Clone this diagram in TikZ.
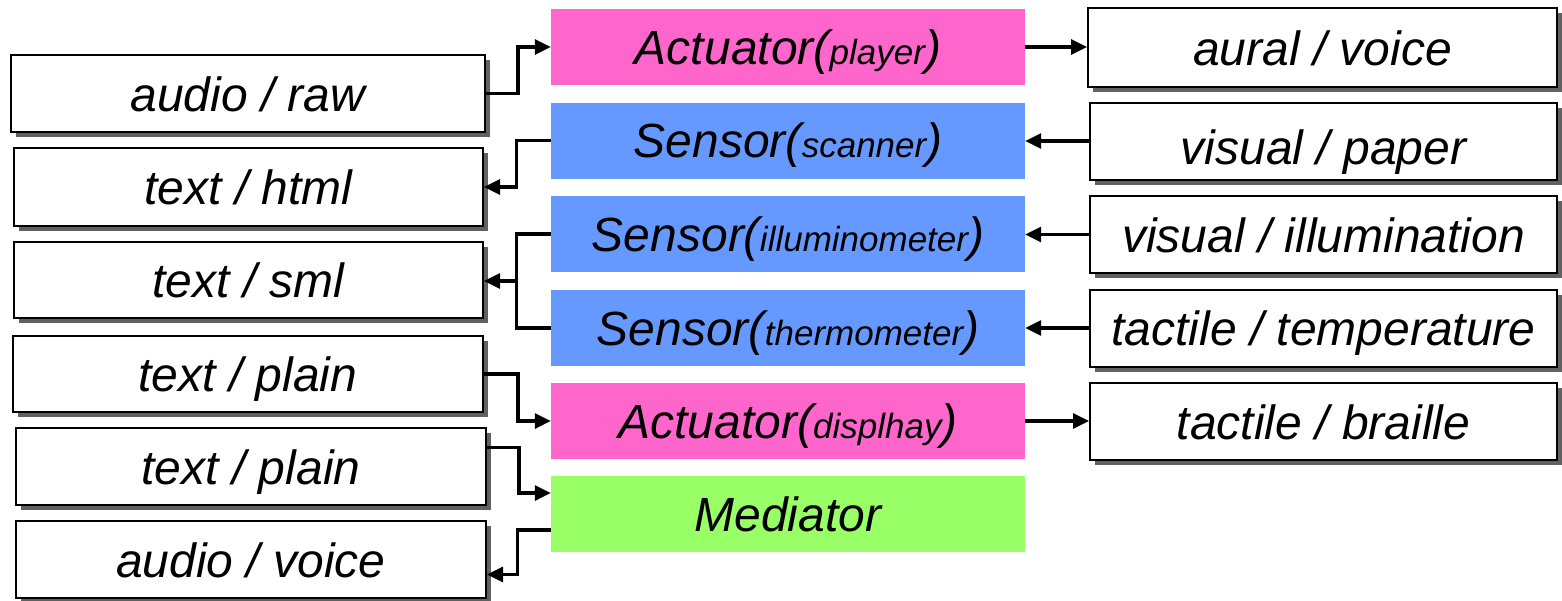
\documentclass[tikz,border=0pt]{standalone}
\usepackage{fontspec}
\setmainfont{Liberation Sans}
\usetikzlibrary{arrows.meta,shadows,calc}
\definecolor{actpink}{HTML}{FF66CC}
\definecolor{senblue}{HTML}{6699FF}
\definecolor{medgreen}{HTML}{99FF66}
\newcommand{\bigtxt}{\fontsize{48}{56}\selectfont\itshape}
\newcommand{\smalltxt}[1]{{\fontsize{35}{40}\selectfont #1}}
\tikzset{
  databox/.style={draw=black, line width=2pt, fill=white, inner sep=0pt,
    font=\bigtxt, text height=35pt, text depth=0pt,
    drop shadow={shadow xshift=5pt, shadow yshift=-5pt, fill=black!62, opacity=1}},
  devbox/.style={inner sep=0pt, minimum width=474pt, minimum height=76pt, font=\bigtxt,
    text height=34pt, text depth=0pt},
  conn/.style={line width=3.2pt, -{Triangle[length=16pt,width=15pt]}},
  plainline/.style={line width=3.2pt}
}
\begin{document}
\begin{tikzpicture}[x=1pt,y=-1pt]
\useasboundingbox (0,0) rectangle (1562,600);
% centre column
\node[devbox, fill=actpink] (c1) at (788,47) {Actuator(\smalltxt{player})};
\node[devbox, fill=senblue] (c2) at (788,140.5) {Sensor(\smalltxt{scanner})};
\node[devbox, fill=senblue] (c3) at (788,234) {Sensor(\smalltxt{illuminometer})};
\node[devbox, fill=senblue] (c4) at (788,328) {Sensor(\smalltxt{thermometer})};
\node[devbox, fill=actpink] (c5) at (788,421) {Actuator(\smalltxt{displhay})};
\node[devbox, fill=medgreen] (c6) at (788,514) {Mediator};
% left column
\node[databox, minimum width=474pt, minimum height=77pt] (l1) at (248,93.5) {audio / raw};
\node[databox, minimum width=469pt, minimum height=78pt] (l2) at (248.5,187) {text / html};
\node[databox, minimum width=469pt, minimum height=76pt] (l3) at (248.5,280) {text / sml};
\node[databox, minimum width=470pt, minimum height=76pt] (l4) at (248,374) {text / plain};
\node[databox, minimum width=470pt, minimum height=77pt] (l5) at (251,466.5) {text / plain};
\node[databox, minimum width=470pt, minimum height=77pt] (l6) at (251,559.5) {audio / voice};
% right column
\node[databox, minimum width=469pt, minimum height=79pt] (r1) at (1322.5,47.5) {aural / voice};
\node[databox, minimum width=467pt, minimum height=77pt, text height=46pt] (r2) at (1323.5,141) {visual / paper};
\node[databox, minimum width=467pt, minimum height=77pt] (r3) at (1323.5,234.5) {visual / illumination};
\node[databox, minimum width=467pt, minimum height=77pt] (r4) at (1323.5,328) {tactile / temperature};
\node[databox, minimum width=467pt, minimum height=77pt] (r5) at (1323.5,421.5) {tactile / braille};
% left connectors
\draw[conn] (l1.east) -- ++(32,0) |- (c1.west);
\draw[conn] (c2.west) -- ++(-34,0) |- (l2.east);
\draw[plainline] (c3.west) -- ++(-34,0) |- (c4.west);
\draw[conn] ($(c3.west)!0.5!(c4.west)+(-34,0)$) -- (l3.east |- {$(c3.west)!0.5!(c4.west)$});
\draw[conn] (l4.east) -- ++(34,0) |- (c5.west);
\draw[conn] ([yshift=19pt]l5.east) -- ++(32,0) |- ([yshift=21pt]c6.west);
\draw[conn] ([yshift=-16pt]c6.west) -- ++(-33,0) |- ([yshift=-15pt]l6.east);
% right connectors
\draw[conn] (c1.east) -- (c1.east -| r1.west);
\draw[conn] (r2.west) -- (r2.west -| c2.east);
\draw[conn] (r3.west) -- (r3.west -| c3.east);
\draw[conn] (r4.west) -- (r4.west -| c4.east);
\draw[conn] (c5.east) -- (c5.east -| r5.west);
\end{tikzpicture}
\end{document}
